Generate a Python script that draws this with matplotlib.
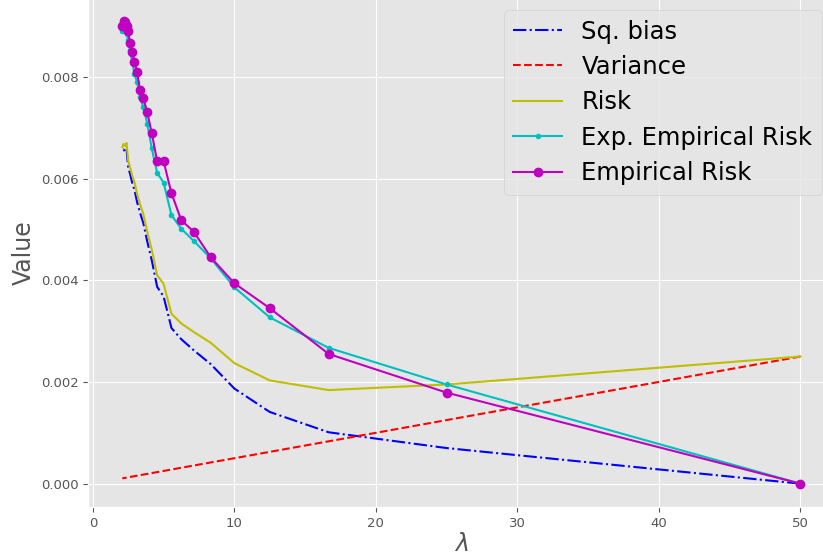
import matplotlib
matplotlib.use("Agg")
import matplotlib.pyplot as plt

plt.style.use("ggplot")

lam = [50.0, 25.0, 16.667, 12.5, 10.0, 8.333, 7.143, 6.25, 5.556, 5.0, 4.545, 4.167,
       3.846, 3.571, 3.333, 3.125, 2.941, 2.778, 2.632, 2.5, 2.381, 2.273, 2.174, 2.083]

sq_bias = [0.0, 0.00070, 0.00101, 0.00141, 0.00187, 0.00235, 0.00262, 0.00284, 0.00306,
           0.00368, 0.00387, 0.00439, 0.00476, 0.00512, 0.00533, 0.00554, 0.00578,
           0.00592, 0.00609, 0.00622, 0.00658, 0.00653, 0.00657, 0.00652]

variance = [0.0025, 0.00125, 0.000833, 0.000625, 0.0005, 0.000417, 0.000357, 0.000313,
            0.000278, 0.00025, 0.000227, 0.000208, 0.000192, 0.000179, 0.000167,
            0.000156, 0.000147, 0.000139, 0.000132, 0.000125, 0.000119, 0.000114,
            0.000109, 0.000104]

risk = [0.0025, 0.00195, 0.00184, 0.00203, 0.00237, 0.00277, 0.00298, 0.00315, 0.00334,
        0.00393, 0.00410, 0.00460, 0.00495, 0.00530, 0.00550, 0.00570, 0.00593,
        0.00606, 0.00622, 0.00635, 0.00670, 0.00664, 0.00668, 0.00662]

exp_emp_risk = [0.0, 0.00195, 0.00267, 0.00327, 0.00386, 0.00443, 0.00477, 0.00501,
                0.00528, 0.00592, 0.00611, 0.00659, 0.00708, 0.00740, 0.00760, 0.00790,
                0.00805, 0.00830, 0.00852, 0.00872, 0.00885, 0.00890, 0.00895, 0.00890]

emp_risk = [0.0, 0.00179, 0.00255, 0.00345, 0.00394, 0.00445, 0.00495, 0.00518, 0.00571,
            0.00634, 0.00634, 0.00689, 0.00730, 0.00758, 0.00774, 0.00809, 0.00830,
            0.00848, 0.00866, 0.00890, 0.00900, 0.00908, 0.00910, 0.00900]

W, H = 823, 560
fig = plt.figure(figsize=(W / 100, H / 100), dpi=100)
left, right, top, bottom = 88.4, 834.3, -2.3, 506.8
ax = fig.add_axes([left / W, (H - bottom) / H, (right - left) / W, (bottom - top) / H])

ax.plot(lam, sq_bias, "b-.", label="Sq. bias")
ax.plot(lam, variance, "r--", label="Variance")
ax.plot(lam, risk, "y-", label="Risk")
ax.plot(lam, exp_emp_risk, "c.-", label="Exp. Empirical Risk")
ax.plot(lam, emp_risk, "m-o", label="Empirical Risk")

ax.set_xlabel(r"$\lambda$", fontsize=17, labelpad=2)
ax.set_ylabel("Value", fontsize=17)
ax.tick_params(labelsize=9.5)
ax.legend(loc="upper right", fontsize=17.5, labelspacing=0.47)

fig.savefig("out.png", dpi=100)
